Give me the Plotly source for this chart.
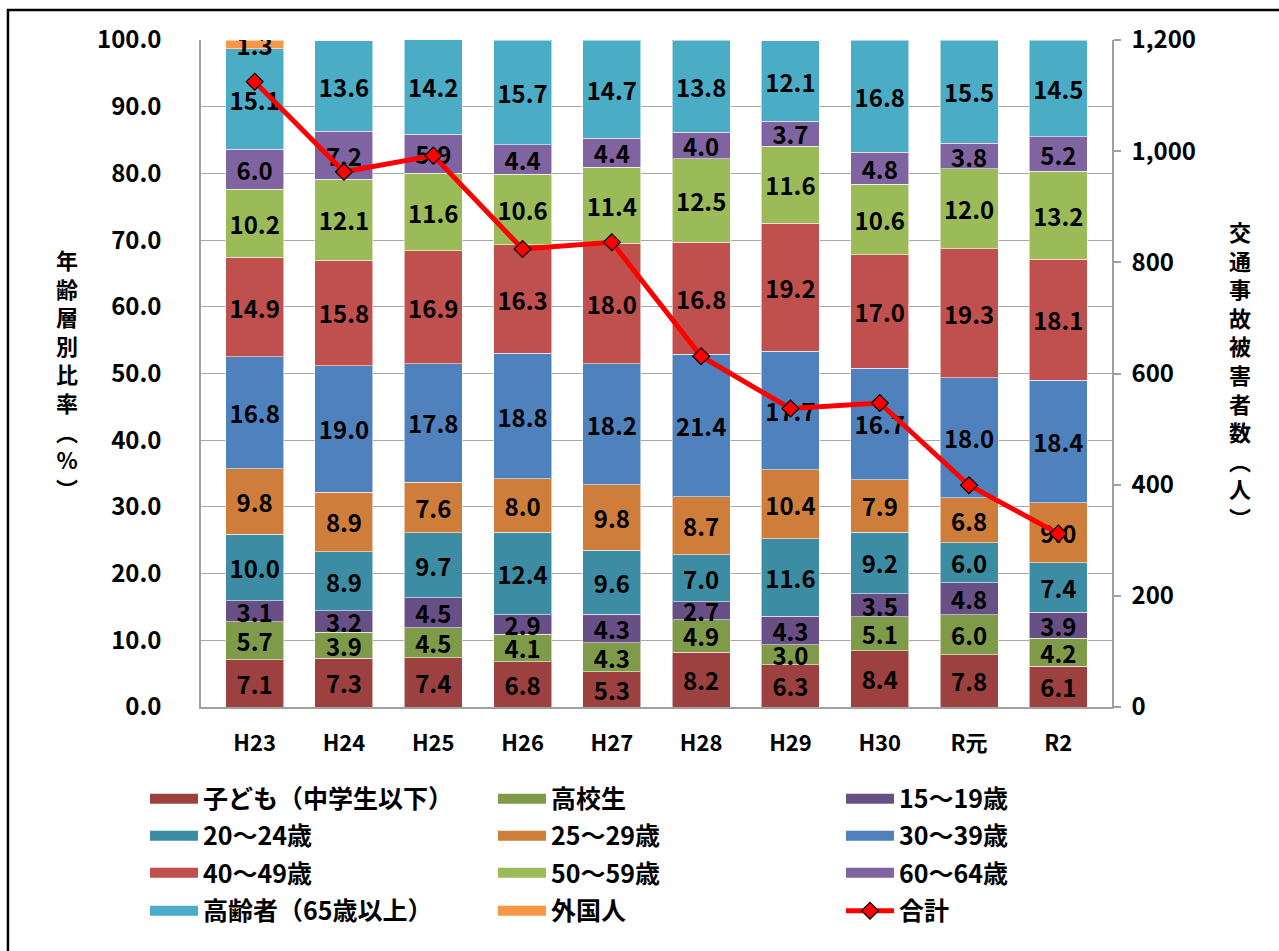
import plotly.graph_objects as go

# 年度
years = ["H23", "H24", "H25", "H26", "H27", "H28", "H29", "H30", "R元", "R2"]

# 年齢層別比率（%）
children = [7.1, 7.3, 7.4, 6.8, 5.3, 8.2, 6.3, 8.4, 7.8, 6.1]
highschool = [5.7, 3.9, 4.5, 4.1, 4.3, 4.9, 3.0, 5.1, 6.0, 4.2]
age15_19 = [3.1, 3.2, 4.5, 2.9, 4.3, 2.7, 4.3, 3.5, 4.8, 3.9]
age20_24 = [10.0, 8.9, 9.7, 12.4, 9.6, 7.0, 11.6, 9.2, 6.0, 7.4]
age25_29 = [9.8, 8.9, 7.6, 8.0, 9.8, 8.7, 10.4, 7.9, 6.8, 9.0]
age30_39 = [16.8, 19.0, 17.8, 18.8, 18.2, 21.4, 17.7, 16.7, 18.0, 18.4]
age40_49 = [14.9, 15.8, 16.9, 16.3, 18.0, 16.8, 19.2, 17.0, 19.3, 18.1]
age50_59 = [10.2, 12.1, 11.6, 10.6, 11.4, 12.5, 11.6, 10.6, 12.0, 13.2]
age60_64 = [6.0, 7.2, 5.9, 4.4, 4.4, 4.0, 3.7, 4.8, 3.8, 5.2]
elderly = [15.1, 13.6, 14.2, 15.7, 14.7, 13.8, 12.1, 16.8, 15.5, 14.5]
foreign = [1.3, None, None, None, None, None, None, None, None, None]

# 交通事故被害者数（人）
totals = [1125, 963, 992, 824, 836, 631, 537, 547, 399, 312]

series_names = [
    "子ども（中学生以下）", "高校生", "15～19歳",
    "20～24歳", "25～29歳", "30～39歳",
    "40～49歳", "50～59歳", "60～64歳",
    "高齢者（65歳以上）", "外国人",
]
series_values = [children, highschool, age15_19, age20_24, age25_29, age30_39,
                 age40_49, age50_59, age60_64, elderly, foreign]
series_colors = ["#9C4140", "#7F9A48", "#684F86", "#3C8CA3", "#CF7D3A", "#4F81BD",
                 "#C0504D", "#9BBB59", "#8064A2", "#4BACC6", "#F79646"]

FONT = "Noto Sans CJK JP"
legend_keys = ["legend", "legend2", "legend3", "legend4"]

fig = go.Figure()

for i, (name, vals, col) in enumerate(zip(series_names, series_values, series_colors)):
    fig.add_trace(go.Bar(
        x=years, y=vals, name=name, showlegend=False,
        marker=dict(color=col, line=dict(color="rgba(255,255,255,0.55)", width=1)),
        texttemplate="%{y:.1f}", textposition="inside", insidetextanchor="middle",
        textangle=0, constraintext="none",
        textfont=dict(family=FONT, size=24, color="black", weight="bold"),
    ))
    # legend swatch as a wide colour strip
    fig.add_trace(go.Scatter(
        x=[None], y=[None], mode="lines", name=name,
        line=dict(color=col, width=12),
        legend=legend_keys[i // 3], hoverinfo="skip",
    ))

fig.add_trace(go.Scatter(
    x=years, y=totals, name="合計", yaxis="y2", mode="lines+markers",
    line=dict(color="#FF0000", width=5),
    marker=dict(symbol="diamond", size=13, color="#FF0000",
                line=dict(color="black", width=1.2)),
    legend="legend4",
))

legend_rows_y = [-0.1379, -0.1934, -0.2489, -0.3058]
legend_common = dict(
    orientation="h", x=-0.0615, xanchor="left", yanchor="middle",
    entrywidth=285, entrywidthmode="pixels", itemwidth=48, traceorder="normal",
    font=dict(family=FONT, size=25, color="black", weight="bold"),
    bgcolor="rgba(0,0,0,0)", itemclick=False, itemdoubleclick=False,
)
legends = {}
for key, ly in zip(legend_keys, legend_rows_y):
    legends[key] = dict(legend_common, y=ly)

tick_font = dict(family=FONT, size=24, color="black", weight="bold")

fig.update_layout(
    width=1279, height=951,
    margin=dict(l=201, r=167, t=40, b=244, autoexpand=False),
    paper_bgcolor="white", plot_bgcolor="white",
    barmode="stack", bargap=0.35,
    showlegend=True,
    xaxis=dict(
        type="category", showline=True, linecolor="#A0A0A0", linewidth=1.5,
        ticks="", tickfont=dict(family=FONT, size=22, color="black", weight="bold"),
        ticklabelstandoff=16,
    ),
    yaxis=dict(
        range=[0, 100], dtick=10, tickformat=".1f",
        showline=True, linecolor="#A0A0A0", linewidth=1.5,
        showgrid=True, gridcolor="#A8A8A8", gridwidth=1.2, zeroline=False,
        ticks="", tickfont=tick_font, ticklabelstandoff=33,
    ),
    yaxis2=dict(
        range=[0, 1200], dtick=200, tickformat=",d", overlaying="y", side="right",
        showline=True, linecolor="#A0A0A0", linewidth=1.5, showgrid=False, zeroline=False,
        ticks="outside", ticklen=7, tickcolor="#A0A0A0", tickwidth=1.5,
        tickfont=tick_font, ticklabelstandoff=6,
    ),
    shapes=[dict(type="rect", xref="paper", yref="paper",
                 x0=-0.2119, x1=1.19, y0=-0.38, y1=1.045,
                 line=dict(color="black", width=2.5), fillcolor="rgba(0,0,0,0)",
                 layer="above")],
    annotations=[
        dict(text="<br>".join(list("年齢層別比率") + ["︵", "%", "︶"]),
             xref="paper", yref="paper", x=-0.1471, y=0.50, showarrow=False,
             xanchor="center", yanchor="middle",
             font=dict(family=FONT, size=22, color="black", weight="bold")),
        dict(text="<br>".join(list("交通事故被害者数") + ["︵", "人", "︶"]),
             xref="paper", yref="paper", x=1.1405, y=0.50, showarrow=False,
             xanchor="center", yanchor="middle",
             font=dict(family=FONT, size=22, color="black", weight="bold")),
    ],
    **legends,
)

fig.write_html("out.html")
